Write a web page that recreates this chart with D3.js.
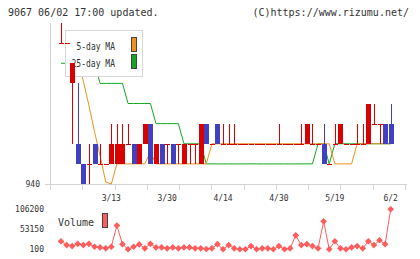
<!DOCTYPE html>
<html>
<head>
<meta charset="utf-8">
<script src="https://cdn.jsdelivr.net/npm/d3@7"></script>
<style>
  body { margin: 0; background: #fff; }
  svg { display: block; }
  text { font-family: "DejaVu Sans Mono", monospace; fill: #333; }
</style>
</head>
<body>
<svg id="chart" width="420" height="259"></svg>
<script>
// daily candles (yen)
var open  = [947,947,945,942,941,941,942,941,941,941,941,941,942,942,941,942,943,941,942,942,
             942,942,941,942,942,941,943,942,943,942,942,942,942,942,942,942,942,942,942,942,
             942,942,942,942,942,942,942,942,941,942,942,942,942,942,942,942,943,943,943,943];
var high  = [948,947,946,945,941,942,942,942,941,943,943,943,943,942,942,943,943,942,942,942,
             942,942,942,942,942,943,943,942,943,943,943,943,942,942,942,942,942,942,942,943,
             942,942,942,943,943,943,942,943,941,943,943,942,942,943,943,944,944,943,943,944];
var low   = [947,947,942,941,940,940,941,941,941,941,941,941,942,941,941,942,941,941,941,941,
             941,941,941,941,941,941,942,942,942,942,942,942,942,942,942,942,942,942,942,942,
             942,942,942,942,942,942,942,941,941,942,942,942,942,942,942,942,943,942,942,942];
var close = [947,947,946,941,940,941,941,941,941,942,942,942,942,941,942,943,941,942,941,942,
             941,942,942,942,942,943,942,942,942,942,942,942,942,942,942,942,942,942,942,942,
             942,942,942,942,943,942,942,941,941,942,943,942,942,942,942,944,943,943,942,942];

// moving averages as drawn
var ma5  = [null,null,null,946.3,945.1,943.9,942.6,941.4,940.1,940,941,941,941,941,941,941,941.6,941,941,941,
            941,941,941,941,941,941,941,942,942,942,942,942,942,942,942,942,942,942,942,942,
            942,942,942,942,942,942,942,942,942,941,941,941,941,942,942,942,942,942,942,942];
var ma25 = [946,946,946,946,946,946,946,945,945,945,945,945,944,944,944,944,944,943,943,943,
            943,943,942,942,942,942,941,941,941,941,941,941,941,941,941,941,941,941,941,941,
            941,941,941,941,941,941,942,942,941,942,942,942,942,942,942,942,942,942,942,942];

var volume = [21500,11200,8600,14500,11200,14500,6800,5200,2600,6800,63000,13700,100,6800,13000,2600,14500,5200,5200,2600,
              5200,2600,5200,5200,2600,2600,900,2600,13700,100,11200,2600,100,100,8600,100,2600,2600,100,8600,
              100,2600,37200,11200,13700,8600,2600,74300,100,21500,2600,100,5200,8600,2600,21500,11200,24100,13700,106200];

var tickIdx = [9,19,29,39,49,59];
var tickLabels = ["3/13","3/30","4/14","4/30","5/19","6/2"];
var priceTicks = [940];
var volTicks = [106200,53150,100];

var RED = "#d90000", BLUE = "#4040c0", ORANGE = "#f0901e", GREEN = "#14a820", VOL = "#ff5c5c", GRID = "#d4d4d4";

var svg = d3.select("#chart");
var n = close.length;

var x = d3.scaleLinear().domain([0, n - 1]).range([61, 390.7]);
var y = d3.scaleLinear().domain([940, 948]).range([184, 23]);
var yv = d3.scaleLinear().domain([100, 106200]).range([249.3, 209.3]);
var gx = d3.scaleLinear().domain([0, 11]).range([50, 405]);

// header
svg.append("text").attr("x", 8).attr("y", 16).style("font-size", "10px").text("9067 06/02 17:00 updated.");
svg.append("text").attr("x", 409).attr("y", 16).attr("text-anchor", "end").style("font-size", "10px").text("(C)https://www.rizumu.net/");

// axes frame
var axis = svg.append("g").attr("shape-rendering", "crispEdges").attr("stroke", GRID);
axis.append("line").attr("x1", 50.5).attr("x2", 50.5).attr("y1", 23).attr("y2", 190);
axis.append("line").attr("x1", 45).attr("x2", 407).attr("y1", 184.5).attr("y2", 184.5);
axis.selectAll(".gt").data(d3.range(12)).enter().append("line")
    .attr("x1", function(d){ return Math.round(gx(d)) + 0.5; })
    .attr("x2", function(d){ return Math.round(gx(d)) + 0.5; })
    .attr("y1", 184).attr("y2", 190);

svg.selectAll(".pt").data(priceTicks).enter().append("text")
    .attr("x", 40).attr("y", function(d){ return y(d) + 3; })
    .attr("text-anchor", "end").style("font-size", "8px").text(function(d){ return d; });

svg.selectAll(".xl").data(tickIdx).enter().append("text")
    .attr("x", function(d){ return x(d); }).attr("y", 201)
    .attr("text-anchor", "middle").style("font-size", "8px")
    .text(function(d, i){ return tickLabels[i]; });

// moving averages
function maLine(arr) {
  return d3.line()
    .defined(function(d){ return d != null; })
    .x(function(d, i){ return x(i); })
    .y(function(d){ return y(d); })(arr);
}
svg.append("path").attr("d", maLine(ma25)).attr("fill", "none").attr("stroke", GREEN).attr("stroke-width", 1);
svg.append("path").attr("d", maLine(ma5)).attr("fill", "none").attr("stroke", ORANGE).attr("stroke-width", 1);

// legend
var lg = svg.append("g").attr("shape-rendering", "crispEdges");
lg.append("rect").attr("x", 65.5).attr("y", 30.5).attr("width", 77).attr("height", 46)
  .attr("fill", "#fff").attr("stroke", "#d8d8d8");
lg.append("text").attr("x", 76.5).attr("y", 49.5).attr("textLength", 38.5).attr("lengthAdjust", "spacingAndGlyphs")
  .style("font-size", "10.5px").text("5-day MA");
lg.append("text").attr("x", 71.5).attr("y", 66.5).attr("textLength", 43.5).attr("lengthAdjust", "spacingAndGlyphs")
  .style("font-size", "10.5px").text("25-day MA");
lg.append("rect").attr("x", 131.5).attr("y", 37.5).attr("width", 5).attr("height", 14).attr("fill", ORANGE).attr("stroke", "#444");
lg.append("rect").attr("x", 131.5).attr("y", 54.5).attr("width", 5).attr("height", 14).attr("fill", GREEN).attr("stroke", "#444");

// candles
var c = svg.append("g").attr("shape-rendering", "crispEdges");
var idx = d3.range(n);
function col(i){ return close[i] < open[i] ? BLUE : RED; }
c.selectAll(".wick").data(idx).enter().append("line")
  .attr("x1", function(i){ return Math.round(x(i)) + 0.5; })
  .attr("x2", function(i){ return Math.round(x(i)) + 0.5; })
  .attr("y1", function(i){ return y(high[i]); })
  .attr("y2", function(i){ return y(low[i]); })
  .attr("stroke", col);
c.selectAll(".body").data(idx).enter().append("rect")
  .attr("x", function(i){ return Math.round(x(i)) - 2; })
  .attr("width", 5)
  .attr("y", function(i){ return y(Math.max(open[i], close[i])); })
  .attr("height", function(i){ return Math.max(1, y(Math.min(open[i], close[i])) - y(Math.max(open[i], close[i]))); })
  .attr("fill", col);

// volume
svg.selectAll(".vt").data(volTicks).enter().append("text")
  .attr("x", 44).attr("y", function(d){ return yv(d) + 3; })
  .attr("text-anchor", "end").style("font-size", "8px").text(function(d){ return d; });

svg.append("path")
  .datum(volume)
  .attr("fill", "none").attr("stroke", VOL).attr("stroke-width", 1)
  .attr("d", d3.line().x(function(d, i){ return x(i); }).y(function(d){ return yv(d); }));
svg.selectAll(".vm").data(volume).enter().append("path")
  .attr("d", d3.symbol().type(d3.symbolSquare).size(22))
  .attr("transform", function(d, i){ return "translate(" + x(i) + "," + yv(d) + ") rotate(45)"; })
  .attr("fill", VOL);

svg.append("text").attr("x", 58).attr("y", 226).style("font-size", "10px").text("Volume");
svg.append("rect").attr("x", 102.5).attr("y", 213.5).attr("width", 5).attr("height", 14)
  .attr("fill", VOL).attr("stroke", "#444").attr("shape-rendering", "crispEdges");
</script>
</body>
</html>
